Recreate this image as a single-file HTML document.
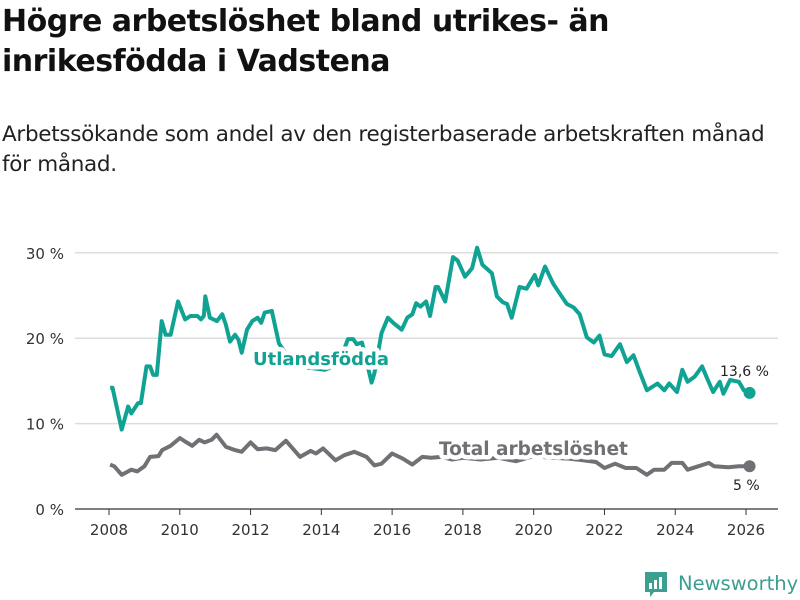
<!DOCTYPE html>
<html><head><meta charset="utf-8"><style>
body{margin:0;width:800px;height:600px;background:#fff;font-family:"Liberation Sans","DejaVu Sans",sans-serif;overflow:hidden;position:relative}
#title{position:absolute;left:2px;top:2px;font-size:30px;font-weight:bold;line-height:40px;color:#111;margin:0;font-family:"DejaVu Sans",sans-serif;letter-spacing:-0.5px;white-space:nowrap}
#sub{position:absolute;left:2px;top:120px;font-size:21.5px;line-height:30px;color:#222;font-family:"DejaVu Sans",sans-serif;letter-spacing:-0.3px;white-space:nowrap}
svg{position:absolute;left:0;top:0}
</style></head><body>
<h1 id="title">Högre arbetslöshet bland utrikes- än<br>inrikesfödda i Vadstena</h1>
<div id="sub">Arbetssökande som andel av den registerbaserade arbetskraften månad<br>för månad.</div>
<svg id="chart" width="800" height="600"></svg>
<script>
const yTicks=[0,10,20,30];
const yTickLabels=["0 %","10 %","20 %","30 %"];
const xTicks=[2008,2010,2012,2014,2016,2018,2020,2022,2024,2026];
const utlYears=[2008.03,2008.1,2008.36,2008.54,2008.63,2008.82,2008.9,2009.06,2009.16,2009.25,2009.35,2009.49,2009.6,2009.74,2009.95,2010.15,2010.3,2010.5,2010.6,2010.68,2010.72,2010.85,2011.05,2011.2,2011.3,2011.42,2011.56,2011.66,2011.75,2011.9,2012.05,2012.2,2012.3,2012.4,2012.6,2012.8,2013.1,2013.5,2014.1,2014.5,2014.75,2014.9,2015.0,2015.15,2015.42,2015.5,2015.7,2015.88,2016.03,2016.27,2016.43,2016.57,2016.68,2016.8,2016.96,2017.07,2017.23,2017.3,2017.5,2017.72,2017.85,2018.06,2018.26,2018.4,2018.55,2018.82,2018.96,2019.13,2019.25,2019.38,2019.6,2019.8,2020.03,2020.13,2020.32,2020.55,2020.74,2020.94,2021.13,2021.3,2021.5,2021.7,2021.86,2022.0,2022.2,2022.44,2022.63,2022.82,2023.0,2023.2,2023.5,2023.69,2023.83,2024.05,2024.2,2024.35,2024.55,2024.76,2024.9,2025.07,2025.26,2025.36,2025.55,2025.8,2025.94,2026.1];
const utlValues=[14.2,14.2,9.3,12.0,11.2,12.4,12.4,16.7,16.7,15.7,15.7,22.0,20.4,20.4,24.3,22.2,22.6,22.6,22.2,22.6,24.9,22.4,22.0,22.8,21.6,19.6,20.4,19.8,18.3,21.0,22.0,22.4,21.8,23.0,23.2,19.4,17.5,16.6,16.3,17.0,19.9,19.9,19.3,19.5,14.8,15.9,20.6,22.4,21.8,21.0,22.4,22.8,24.1,23.7,24.3,22.6,26.0,26.0,24.3,29.5,29.1,27.2,28.2,30.6,28.6,27.6,24.9,24.2,24.0,22.4,26.0,25.8,27.4,26.2,28.4,26.4,25.2,24.0,23.6,22.8,20.1,19.5,20.3,18.1,17.9,19.3,17.2,18.0,16.0,13.9,14.7,13.9,14.7,13.7,16.3,14.9,15.5,16.7,15.3,13.7,14.9,13.5,15.1,14.9,13.9,13.6];
const totYears=[2008.03,2008.15,2008.36,2008.63,2008.8,2009.0,2009.16,2009.4,2009.5,2009.74,2010.0,2010.15,2010.35,2010.55,2010.7,2010.9,2011.04,2011.3,2011.56,2011.75,2012.0,2012.2,2012.45,2012.7,2013.0,2013.4,2013.7,2013.85,2014.05,2014.4,2014.65,2014.93,2015.28,2015.5,2015.7,2016.0,2016.3,2016.57,2016.85,2017.1,2017.4,2017.7,2018.0,2018.5,2019.0,2019.5,2020.0,2020.5,2021.0,2021.4,2021.76,2022.0,2022.3,2022.6,2022.9,2023.2,2023.4,2023.69,2023.9,2024.2,2024.35,2024.65,2024.95,2025.1,2025.5,2025.8,2026.1];
const totValues=[5.2,5.0,4.0,4.6,4.4,5.0,6.1,6.2,6.9,7.4,8.3,7.9,7.4,8.1,7.8,8.1,8.7,7.3,6.9,6.7,7.8,7.0,7.1,6.9,8.0,6.1,6.8,6.5,7.1,5.7,6.3,6.7,6.1,5.1,5.3,6.5,5.9,5.2,6.1,6.0,6.1,5.8,6.0,5.8,6.0,5.6,6.2,6.0,5.9,5.7,5.5,4.8,5.3,4.8,4.8,4.0,4.6,4.6,5.4,5.4,4.6,5.0,5.4,5.0,4.9,5.0,5.0];
const TEAL="#10a394",GRAY="#707075";
const svg=document.getElementById('chart');
const NS="http://www.w3.org/2000/svg";
const x=v=>109+(v-2008)*35.39;
const y=v=>509-v*8.54;
function mk(t,a,p){const e=document.createElementNS(NS,t);for(const k in a)e.setAttribute(k,a[k]);(p||svg).appendChild(e);return e;}
yTicks.forEach((t,i)=>{
  const l=mk('line',{x1:75,x2:778,y1:y(t),y2:y(t),stroke:t===0?'#333':'#ddd','stroke-width':t===0?1.2:1.5});
  
  
  const tx=mk('text',{x:64,y:y(t)+6,'text-anchor':'end','font-size':15,fill:'#333','font-family':'DejaVu Sans, sans-serif'});
  tx.textContent=yTickLabels[i];
  
  
});
xTicks.forEach(t=>{
  const l=mk('line',{x1:x(t),x2:x(t),y1:509,y2:515,stroke:'#333','stroke-width':1});
  
  
  const tx=mk('text',{x:x(t),y:535,'text-anchor':'middle','font-size':15,fill:'#333','font-family':'DejaVu Sans, sans-serif'});
  tx.textContent=t;
  
  
});
function line(xs,vs,c,name){
  const d=xs.map((v,i)=>(i?'L':'M')+x(v).toFixed(1)+','+y(vs[i]).toFixed(1)).join('');
  const p=mk('path',{d:d,fill:'none',stroke:c,'stroke-width':4,'stroke-linejoin':'round'});
  
  
  const n=xs.length-1;
  const dot=mk('circle',{cx:x(xs[n]),cy:y(vs[n]),r:6,fill:c});
  
  
}
line(totYears,totValues,GRAY,'total-line');
line(utlYears,utlValues,TEAL,'utlandsfodda-line');
function lab(txt,xx,yy,c,fs,bold,name){
  const t=mk('text',{x:xx,y:yy,'font-size':fs,fill:c,'font-weight':bold?'bold':'normal','font-family':'DejaVu Sans, sans-serif',stroke:'#fff','stroke-width':bold?9:4,'paint-order':'stroke','stroke-linejoin':'round'});
  t.textContent=txt;
  
  
}
lab('Utlandsfödda',253,365,TEAL,18,true,'utlandsfodda-label');
lab('Total arbetslöshet',439,455,GRAY,18.5,true,'total-label');
lab('13,6 %',720,376,'#222',14,false,'utlandsfodda-value-label');
lab('5 %',733,490,'#222',14,false,'total-value-label');
const g=mk('g',{});


mk('path',{d:'M645,572 h22 v20 h-13 l-4,5 v-5 h-5 z',fill:'#3a9e91'},g);
mk('rect',{x:649,y:583,width:3,height:6,fill:'#fff'},g);
mk('rect',{x:654,y:580,width:3,height:9,fill:'#fff'},g);
mk('rect',{x:659,y:577,width:3,height:12,fill:'#fff'},g);
const lt=mk('text',{x:678,y:590,'font-size':19.5,fill:'#3a9e91','font-family':'DejaVu Sans, sans-serif'},g);
lt.textContent='Newsworthy';
</script>
</body></html>
